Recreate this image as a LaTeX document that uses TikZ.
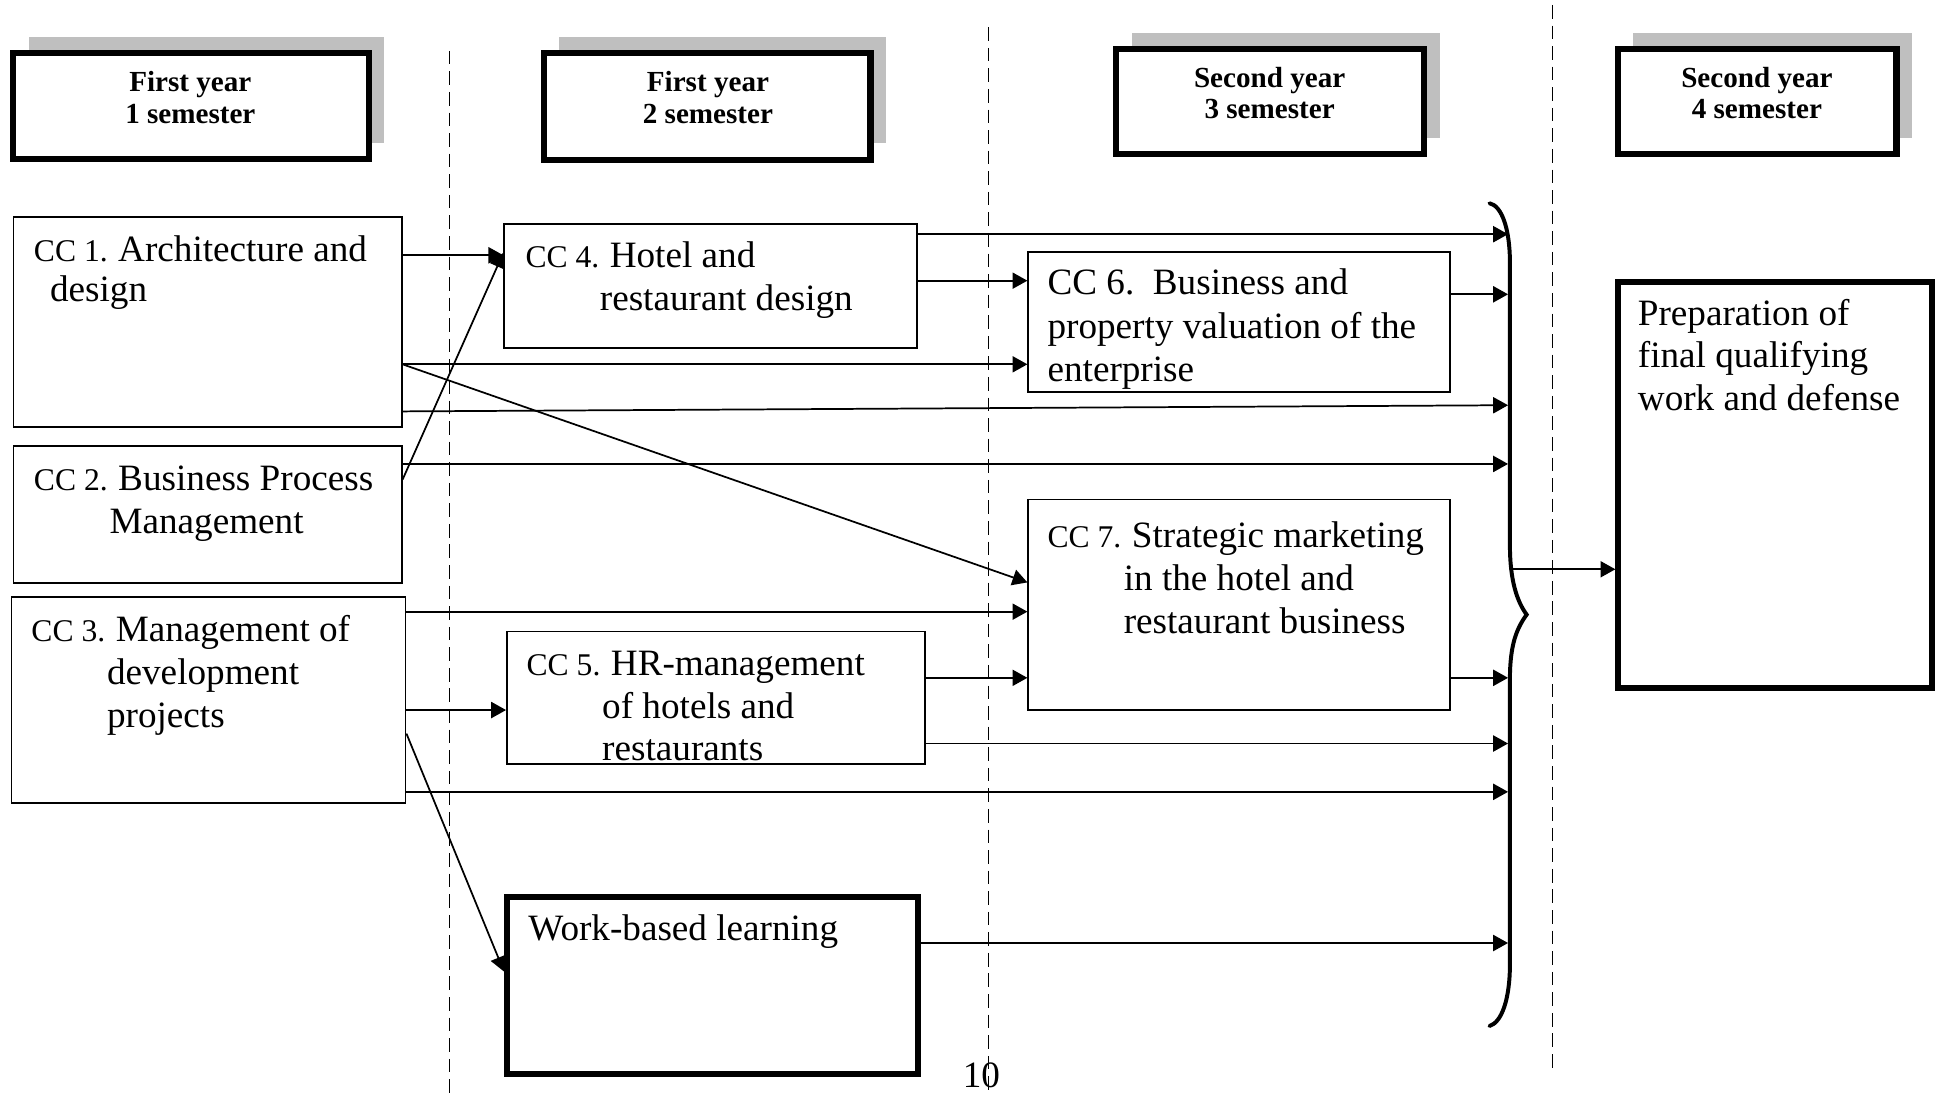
\documentclass[tikz,border=0pt]{standalone}
\usepackage{fontspec}
\setmainfont{Liberation Serif}
\usetikzlibrary{arrows.meta,fit,shadows}

\newcommand{\ccno}[1]{{\fontsize{12.75}{17.25}\selectfont CC #1. }}
\newcommand{\txtrows}[1]{\begin{tabular}[t]{@{}l@{}}#1\end{tabular}}
\newcommand{\headrows}[1]{\begin{tabular}[t]{@{}c@{}}#1\end{tabular}}

\tikzset{
  ccbox/.style={draw,line width=0.7pt,fill=white,inner sep=0pt},
  bigbox/.style={draw,line width=2.4pt,fill=white,inner sep=0pt},
  semhead/.style={draw,line width=2.5pt,fill=white,inner sep=0pt,
    drop shadow={shadow xshift=6.25pt,shadow yshift=6.5pt,fill=black!25,opacity=1}},
  cctext/.style={anchor=base west,inner sep=0pt,font=\fontsize{15}{17.25}\selectfont},
  headtext/.style={anchor=base,inner sep=0pt,font=\fontsize{11.75}{12.75}\selectfont\bfseries},
  flow/.style={-{Triangle[length=6pt,width=6.5pt]},line width=0.7pt},
  semline/.style={dash pattern=on 5.5pt off 2.8pt,line width=0.45pt},
}

\begin{document}
\begin{tikzpicture}[x=0.5pt,y=-0.5pt]
\useasboundingbox (0,0) rectangle (1568,884);
% semester borders
\draw[semline] (363,41) -- (363,884);
\draw[semline] (797.5,22) -- (797.5,884);
\draw[semline] (1252.5,4) -- (1252.5,867);

% semester heads
\node[semhead,fit={(10.5,42.5) (297.5,128.5)}] (sem1) {};
\node[semhead,fit={(439,43) (702.5,128.8)}] (sem2) {};
\node[semhead,fit={(900.7,39.6) (1149.3,124.5)}] (sem3) {};
\node[semhead,fit={(1305.5,39.5) (1530.5,124.5)}] (sem4) {};
\node[headtext] (sem1t) at (153.6,74) {\headrows{First year\\1 semester}};
\node[headtext] (sem2t) at (571.3,74) {\headrows{First year\\2 semester}};
\node[headtext] (sem3t) at (1024.6,70.5) {\headrows{Second year\\3 semester}};
\node[headtext] (sem4t) at (1417.8,70.5) {\headrows{Second year\\4 semester}};

% courses
\node[ccbox,fit={(10.8,175.4) (324.2,344.8)}] (cc1) {};
\node[ccbox,fit={(10.8,360) (324.2,470.2)}] (cc2) {};
\node[ccbox,fit={(9.3,481.5) (327.3,648.3)}] (cc3) {};
\node[ccbox,fit={(406.9,180.8) (740.3,281.1)}] (cc4) {};
\node[ccbox,fit={(409.1,509.7) (746.2,616.8)}] (cc5) {};
\node[bigbox,fit={(409.1,724.1) (741.1,866.8)}] (wbl) {};
\node[ccbox,fit={(829.8,203.1) (1170,316.1)}] (cc6) {};
\node[ccbox,fit={(829.8,403) (1170,573)}] (cc7) {};
\node[bigbox,fit={(1306,227.3) (1559,555)}] (final) {};

\node[cctext] (cc1t) at (27,211) {\txtrows{\ccno{1}Architecture and\\[-1.25pt]\hspace*{6.5pt}design}};
\node[cctext] (cc2t) at (27,396) {\txtrows{\ccno{2}Business Process\\\hspace*{30.5pt}Management}};
\node[cctext] (cc3t) at (25,518) {\txtrows{\ccno{3}Management of\\\hspace*{30.5pt}development\\\hspace*{30.5pt}projects}};
\node[cctext] (cc4t) at (423.7,215.5) {\txtrows{\ccno{4}Hotel and\\[0.25pt]\hspace*{30pt}restaurant design}};
\node[cctext] (cc5t) at (424.6,545) {\txtrows{\ccno{5}HR-management\\\hspace*{30.5pt}of hotels and\\\hspace*{30.5pt}restaurants}};
\node[cctext] (wblt) at (426,758.6) {Work-based learning};
\node[cctext] (cc6t) at (845,238) {\txtrows{CC 6.\ \ Business and\\[0.25pt]property valuation of the\\[0.25pt]enterprise}};
\node[cctext] (cc7t) at (845,442) {\txtrows{\ccno{7}Strategic marketing\\\hspace*{30.75pt}in the hotel and\\\hspace*{30.75pt}restaurant business}};
\node[cctext] (finalt) at (1321.4,262.3) {\txtrows{Preparation of\\final qualifying\\work and defense}};
\node[cctext,anchor=base] (pageno) at (792,878) {10};

% links
\coordinate (br) at (1217,496);
\coordinate (brout) at (1221,459.4);
\draw[flow] (cc1.east |- 0,206) -- (cc4.west |- 0,206);
\draw[flow] (cc2.east |- 0,387) -- (cc4.west |- 0,204);
\draw[flow] (cc1.east |- 0,294) -- (cc6.west |- 0,294);
\draw[flow] (cc1.east |- 0,294) -- (cc7.west |- 0,470);
\draw[flow] (cc1.east |- 0,332) -- (br |- 0,327);
\draw[flow] (cc2.east |- 0,374.4) -- (br |- 0,374.4);
\draw[flow] (cc3.east |- 0,493.6) -- (cc7.west |- 0,493.6);
\draw[flow] (cc3.east |- 0,573) -- (cc5.west |- 0,573);
\draw[flow] (cc3.east |- 0,592) -- (wbl.west |- 0,784);
\draw[flow] (cc3.east |- 0,639) -- (br |- 0,639);
\draw[flow] (cc4.east |- 0,189) -- (br |- 0,189);
\draw[flow] (cc4.east |- 0,226.5) -- (cc6.west |- 0,226.5);
\draw[flow] (cc5.east |- 0,547) -- (cc7.west |- 0,547);
\draw[flow] (cc5.east |- 0,600) -- (br |- 0,600);
\draw[flow] (cc6.east |- 0,237.5) -- (br |- 0,237.5);
\draw[flow] (cc7.east |- 0,547) -- (br |- 0,547);
\draw[flow] (wbl.east |- 0,761) -- (br |- 0,761);
\draw[flow] (brout) -- (final.west |- brout);

% brace
\draw[line width=1.6pt,line cap=round] (1202,164) .. controls (1212,166) and (1218.5,185) .. (1218.5,212)
  -- (1218.5,440) .. controls (1218.5,468) and (1224,485) .. (1232,496)
  .. controls (1224,507) and (1218.5,520) .. (1218.5,548)
  -- (1218.5,778) .. controls (1218.5,806) and (1212,825) .. (1202,828);
\end{tikzpicture}
\end{document}
